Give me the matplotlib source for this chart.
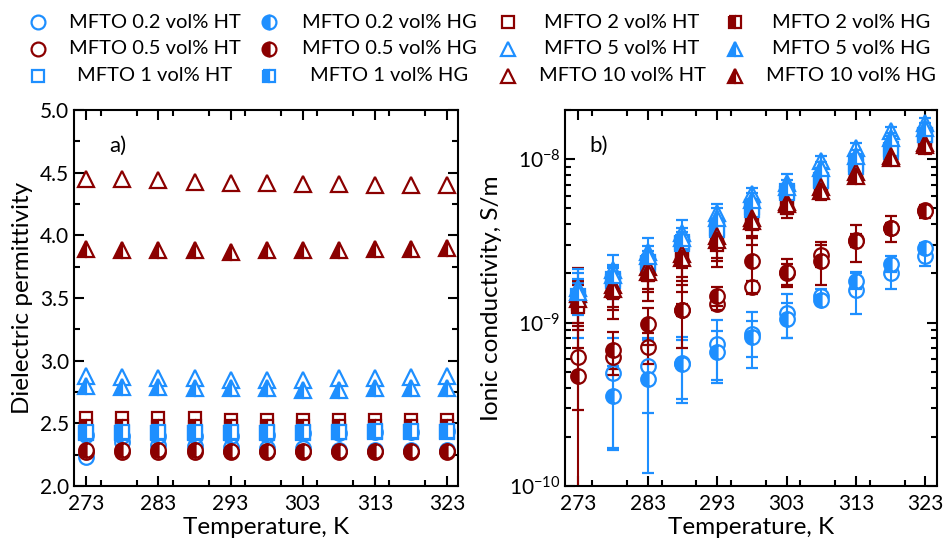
import numpy as np
import matplotlib.pyplot as plt
from matplotlib.lines import Line2D
from matplotlib.ticker import MultipleLocator, LogLocator, NullFormatter

plt.rcParams['font.family'] = ['Lato', 'DejaVu Sans']

BLUE = '#1e8fff'
RED = '#8b0000'

temp = [273, 278, 283, 288, 293, 298, 303, 308, 313, 318, 323]

# dielectric permittivity, panel a
eps_02_ht = [2.23, 2.35, 2.33, 2.32, 2.31, 2.30, 2.30, 2.29, 2.29, 2.29, 2.29]
eps_02_hg = [2.41, 2.40, 2.40, 2.40, 2.40, 2.41, 2.42, 2.42, 2.43, 2.43, 2.44]
eps_05_ht = [2.27, 2.27, 2.27, 2.27, 2.27, 2.27, 2.27, 2.27, 2.27, 2.27, 2.27]
eps_05_hg = [2.29, 2.29, 2.29, 2.29, 2.28, 2.28, 2.28, 2.28, 2.28, 2.28, 2.28]
eps_1_ht = [2.42, 2.42, 2.42, 2.42, 2.42, 2.42, 2.42, 2.43, 2.43, 2.43, 2.43]
eps_1_hg = [2.43, 2.43, 2.43, 2.43, 2.43, 2.43, 2.43, 2.43, 2.44, 2.44, 2.44]
eps_2_ht = [2.54, 2.54, 2.54, 2.54, 2.53, 2.53, 2.53, 2.53, 2.53, 2.53, 2.53]
eps_2_hg = [2.48, 2.48, 2.48, 2.48, 2.48, 2.48, 2.48, 2.48, 2.48, 2.48, 2.48]
eps_5_ht = [2.88, 2.87, 2.86, 2.86, 2.85, 2.85, 2.85, 2.86, 2.86, 2.87, 2.88]
eps_5_hg = [2.80, 2.79, 2.79, 2.78, 2.78, 2.78, 2.77, 2.77, 2.78, 2.78, 2.78]
eps_10_ht = [4.45, 4.45, 4.44, 4.43, 4.42, 4.42, 4.41, 4.41, 4.40, 4.40, 4.40]
eps_10_hg = [3.89, 3.88, 3.88, 3.88, 3.87, 3.88, 3.88, 3.88, 3.89, 3.89, 3.90]

# ionic conductivity (S/m) and errors, panel b
nan = np.nan
sig_02_ht = [nan, 4.9e-10, 5.4e-10, 5.7e-10, 7.45e-10, 8.5e-10, 1.15e-9, 1.45e-9, 1.58e-9, 2.0e-9, 2.57e-9]
err_02_ht = [nan, 3.2e-10, 2.6e-10, 2.5e-10, 3.0e-10, 3.2e-10, 3.5e-10, 1.5e-10, 4.5e-10, 4.0e-10, 3.5e-10]
sig_02_hg = [nan, 3.55e-10, 4.5e-10, 5.6e-10, 6.6e-10, 8.2e-10, 1.06e-9, 1.38e-9, 1.8e-9, 2.3e-9, 2.87e-9]
err_02_hg = [nan, 1.9e-10, 3.3e-10, 2.2e-10, 2.3e-10, 2.0e-10, 2.5e-10, 1.0e-10, 2.0e-10, 2.5e-10, 2.0e-10]
sig_05_ht = [6.2e-10, 6.2e-10, 7.1e-10, 1.2e-9, 1.3e-9, 1.66e-9, 2.0e-9, 2.6e-9, 3.2e-9, 3.8e-9, 4.9e-9]
err_05_ht = [3.3e-10, 1.0e-10, 1.5e-10, 1.0e-10, 1.0e-10, 1.5e-10, 3.0e-10, 4.0e-10, 3.0e-10, 3.0e-10, 2.0e-10]
sig_05_hg = [4.7e-10, 6.8e-10, 9.8e-10, 1.2e-9, 1.46e-9, 2.4e-9, 2.05e-9, 2.4e-9, 3.16e-9, 3.8e-9, 4.8e-9]
err_05_hg = [1.7e-9, 2.0e-10, 2.5e-10, 5.0e-10, 2.0e-10, 9.0e-10, 4.0e-10, 7.0e-10, 8.0e-10, 7.0e-10, 4.5e-10]
sig_1_ht = [1.45e-9, 1.85e-9, 2.3e-9, 3.05e-9, 3.8e-9, 5.1e-9, 6.4e-9, 7.5e-9, 9.3e-9, 11.1e-9, 14.0e-9]
err_1_ht = [3.0e-10, 3.0e-10, 3.0e-10, 4.0e-10, 5.0e-10, 6.0e-10, 7.0e-10, 8.0e-10, 1.0e-9, 1.2e-9, 1.5e-9]
sig_1_hg = [1.4e-9, 1.8e-9, 2.35e-9, 3.1e-9, 3.7e-9, 4.9e-9, 6.2e-9, 7.4e-9, 9.0e-9, 11.5e-9, 14.0e-9]
err_1_hg = [6.0e-10, 4.0e-10, 4.0e-10, 5.0e-10, 6.0e-10, 6.0e-10, 8.0e-10, 9.0e-10, 1.0e-9, 1.3e-9, 1.5e-9]
sig_2_ht = [1.3e-9, 1.6e-9, 2.0e-9, 2.5e-9, 3.1e-9, 4.1e-9, 5.2e-9, 6.5e-9, 8.2e-9, 10.1e-9, 12.0e-9]
err_2_ht = [4.0e-10, 3.5e-10, 4.0e-10, 6.0e-10, 6.0e-10, 8.0e-10, 6.0e-10, 6.0e-10, 6.0e-10, 6.0e-10, 8.0e-10]
sig_2_hg = [1.25e-9, 1.55e-9, 1.95e-9, 2.45e-9, 3.0e-9, 4.0e-9, 5.0e-9, 6.2e-9, 7.9e-9, 10.0e-9, 11.8e-9]
err_2_hg = [5.5e-10, 5.0e-10, 6.0e-10, 9.0e-10, 8.0e-10, 1.0e-9, 6.0e-10, 6.0e-10, 6.0e-10, 6.0e-10, 8.0e-10]
sig_5_ht = [1.62e-9, 2.1e-9, 2.7e-9, 3.55e-9, 4.7e-9, 6.1e-9, 7.2e-9, 9.7e-9, 11.7e-9, 14.8e-9, 16.6e-9]
err_5_ht = [5.0e-10, 5.0e-10, 6.0e-10, 7.0e-10, 6.0e-10, 6.0e-10, 9.0e-10, 8.0e-10, 9.0e-10, 1.0e-9, 1.2e-9]
sig_5_hg = [1.55e-9, 1.95e-9, 2.55e-9, 3.3e-9, 4.4e-9, 5.6e-9, 6.8e-9, 8.8e-9, 10.5e-9, 13.5e-9, 15.5e-9]
err_5_hg = [3.0e-10, 3.0e-10, 4.0e-10, 5.0e-10, 6.0e-10, 6.0e-10, 7.0e-10, 8.0e-10, 9.0e-10, 1.0e-9, 1.2e-9]
sig_10_ht = [1.5e-9, 1.7e-9, 2.2e-9, 2.65e-9, 3.4e-9, 4.4e-9, 5.5e-9, 6.8e-9, 8.3e-9, 10.5e-9, 12.6e-9]
err_10_ht = [3.0e-10, 3.0e-10, 4.0e-10, 5.0e-10, 6.0e-10, 6.0e-10, 6.0e-10, 6.0e-10, 7.0e-10, 8.0e-10, 9.0e-10]
sig_10_hg = [1.4e-9, 1.6e-9, 2.05e-9, 2.5e-9, 3.2e-9, 4.2e-9, 5.3e-9, 6.4e-9, 7.9e-9, 10.2e-9, 12.2e-9]
err_10_hg = [4.0e-10, 4.0e-10, 5.0e-10, 7.0e-10, 8.0e-10, 8.0e-10, 6.0e-10, 6.0e-10, 7.0e-10, 8.0e-10, 9.0e-10]

# (label, color, marker, size, half filled, eps, sigma, err) in drawing order
series = [
    ('MFTO 2 vol% HT', RED, 's', 9, False, eps_2_ht, sig_2_ht, err_2_ht),
    ('MFTO 2 vol% HG', RED, 's', 9, True, eps_2_hg, sig_2_hg, err_2_hg),
    ('MFTO 0.2 vol% HT', BLUE, 'o', 10.5, False, eps_02_ht, sig_02_ht, err_02_ht),
    ('MFTO 0.2 vol% HG', BLUE, 'o', 10.5, True, eps_02_hg, sig_02_hg, err_02_hg),
    ('MFTO 1 vol% HT', BLUE, 's', 9.5, False, eps_1_ht, sig_1_ht, err_1_ht),
    ('MFTO 1 vol% HG', BLUE, 's', 9.5, True, eps_1_hg, sig_1_hg, err_1_hg),
    ('MFTO 0.5 vol% HT', RED, 'o', 10.5, False, eps_05_ht, sig_05_ht, err_05_ht),
    ('MFTO 0.5 vol% HG', RED, 'o', 10.5, True, eps_05_hg, sig_05_hg, err_05_hg),
    ('MFTO 10 vol% HT', RED, '^', 11, False, eps_10_ht, sig_10_ht, err_10_ht),
    ('MFTO 10 vol% HG', RED, '^', 11, True, eps_10_hg, sig_10_hg, err_10_hg),
    ('MFTO 5 vol% HT', BLUE, '^', 11, False, eps_5_ht, sig_5_ht, err_5_ht),
    ('MFTO 5 vol% HG', BLUE, '^', 11, True, eps_5_hg, sig_5_hg, err_5_hg),
]

legend_order = [
    'MFTO 0.2 vol% HT', 'MFTO 0.2 vol% HG', 'MFTO 2 vol% HT', 'MFTO 2 vol% HG',
    'MFTO 0.5 vol% HT', 'MFTO 0.5 vol% HG', 'MFTO 5 vol% HT', 'MFTO 5 vol% HG',
    'MFTO 1 vol% HT', 'MFTO 1 vol% HG', 'MFTO 10 vol% HT', 'MFTO 10 vol% HG',
]


def marker_style(color, marker, size, half):
    st = dict(marker=marker, markersize=size, markeredgecolor=color,
              markeredgewidth=1.6, linestyle='none')
    if half:
        st.update(markerfacecolor=color, fillstyle='left', markerfacecoloralt='white')
    else:
        st.update(markerfacecolor='none')
    return st


fig = plt.figure(figsize=(9.45, 5.48), dpi=100)
ax1 = fig.add_axes([0.0783, 0.1131, 0.4063, 0.686])
ax2 = fig.add_axes([0.598, 0.1131, 0.3937, 0.686])

for label, color, marker, size, half, eps, sig, err in series:
    ax1.plot(temp, eps, **marker_style(color, marker, size, half))
    ax2.errorbar(temp, sig, yerr=err, ecolor=color, elinewidth=1.5,
                 capsize=4, capthick=1.5, **marker_style(color, marker, size, half))

ax1.set_xlim(271.3, 324.5)
ax1.set_ylim(2.0, 5.0)
ax1.yaxis.set_major_locator(MultipleLocator(0.5))
ax1.yaxis.set_minor_locator(MultipleLocator(0.25))
ax1.set_ylabel('Dielectric permittivity', fontsize=17.5, labelpad=5)
ax1.text(0.115, 0.905, 'a)', transform=ax1.transAxes, fontsize=16,
         ha='center', va='center')

ax2.set_yscale('log')
ax2.set_xlim(271.1, 324.7)
ax2.set_ylim(1e-10, 2e-8)
ax2.yaxis.set_major_locator(LogLocator(base=10))
ax2.yaxis.set_minor_locator(LogLocator(base=10, subs=np.arange(2, 10)))
ax2.yaxis.set_minor_formatter(NullFormatter())
ax2.set_ylabel('Ionic conductivity, S/m', fontsize=17.5, labelpad=5)
ax2.text(0.09, 0.905, 'b)', transform=ax2.transAxes, fontsize=16,
         ha='center', va='center')

for ax in (ax1, ax2):
    ax.set_xticks([273, 283, 293, 303, 313, 323])
    ax.xaxis.set_minor_locator(MultipleLocator(5))
    ax.set_xlabel('Temperature, K', fontsize=17.5, labelpad=2)
    ax.tick_params(which='both', direction='in', top=True, right=True,
                   width=1.5, labelsize=15)
    ax.tick_params(axis='x', which='major', pad=6)
    ax.tick_params(which='major', length=7)
    ax.tick_params(which='minor', length=4)
    for sp in ax.spines.values():
        sp.set_linewidth(1.5)

# legend laid out in four centred columns above both panels
styles = {s[0]: s[1:5] for s in series}
marker_x = [38 / 945, 269 / 945, 508 / 945, 735 / 945]
text_x = [155 / 945, 389 / 945, 622 / 945, 851 / 945]
row_y = [1 - 22 / 548, 1 - 49 / 548, 1 - 76 / 548]
for i, label in enumerate(legend_order):
    r, c = divmod(i, 4)
    color, marker, size, half = styles[label]
    h = Line2D([marker_x[c]], [row_y[r]], transform=fig.transFigure,
               **marker_style(color, marker, size * 0.95, half))
    fig.add_artist(h)
    fig.text(text_x[c], row_y[r], label, ha='center', va='center', fontsize=14.5)

fig.savefig('out.png', dpi=100)
